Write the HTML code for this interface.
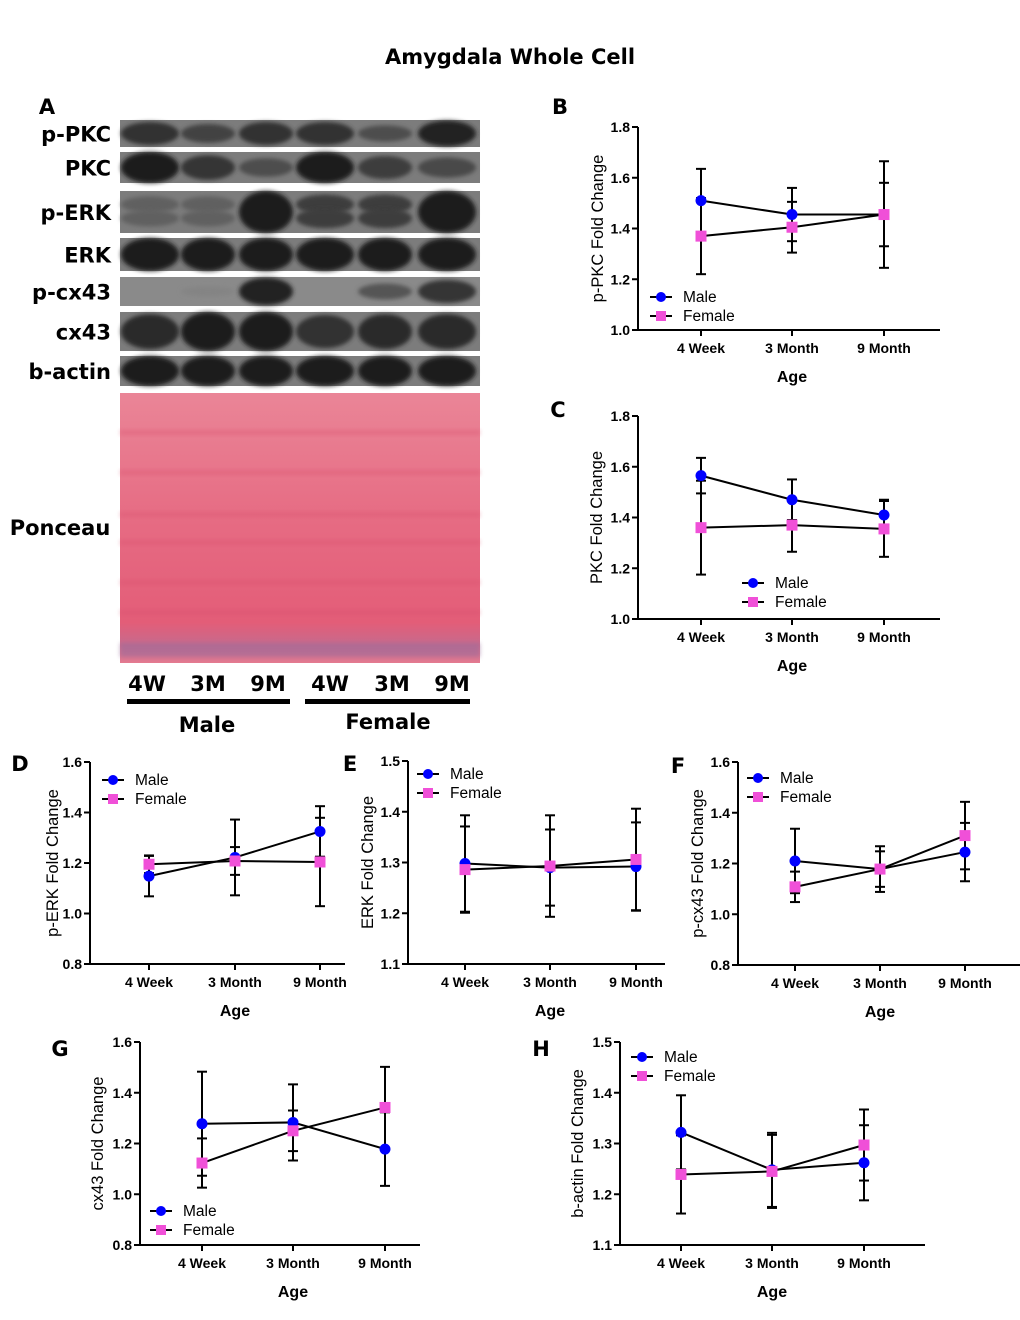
<!DOCTYPE html>
<html><head><meta charset="utf-8">
<style>
html,body{margin:0;padding:0;background:#fff;}
svg{display:block;font-family:"Liberation Sans",Arial,sans-serif;}
.lbl{font-weight:bold;font-size:21px;fill:#000;font-family:"DejaVu Sans","Liberation Sans",sans-serif;}
</style></head>
<body>
<svg id="fig" width="1020" height="1320" viewBox="0 0 1020 1320" xmlns="http://www.w3.org/2000/svg">
<defs>
<filter id="blur" x="-20%" y="-50%" width="140%" height="200%"><feGaussianBlur stdDeviation="2.2"/></filter>
<linearGradient id="pon" x1="0" y1="0" x2="0" y2="1">
<stop offset="0" stop-color="#ea8597"/><stop offset="0.5" stop-color="#e66a82"/><stop offset="0.85" stop-color="#e35d78"/><stop offset="0.93" stop-color="#c86a8c"/><stop offset="1" stop-color="#e47a90"/>
</linearGradient>
</defs>
<text x="510" y="64" text-anchor="middle" class="lbl">Amygdala Whole Cell</text>
<g id="blot"></g>
<g id="charts"></g>
</svg>
<script>
const NS='http://www.w3.org/2000/svg';
function mk(parent,tag,attrs,text){const e=document.createElementNS(NS,tag);for(const k in attrs)e.setAttribute(k,attrs[k]);if(text!==undefined)e.textContent=text;parent.appendChild(e);return e;}

// ---------- Blot panel ----------
const blot=document.getElementById('blot');
const rowNames=['p-PKC','PKC','p-ERK','ERK','p-cx43','cx43','b-actin'];
const rowTop=[120,152,191,238,277,312,356];
const rowBot=[147,183,233,271,306,351,386];
const laneX=[150,208,266,325,385,447];
const laneW=[58,54,54,58,54,58];
const bandInt=[[0.85,0.7,0.85,0.85,0.6,0.95],[1,0.8,0.6,1,0.75,0.65],[0.45,0.45,1,0.75,0.75,1],[1,1,1,1,1,1],[0,0.15,0.95,0,0.55,0.8],[0.9,1,1,0.85,0.9,0.9],[1,1,1,1,1,1]];
mk(blot,'text',{x:47,y:114,class:'lbl','text-anchor':'middle'},'A');
rowNames.forEach((n,i)=>{
  const t=mk(blot,'text',{x:111,y:(rowTop[i]+rowBot[i])/2+8,class:'lbl','text-anchor':'end'},n);
  
  
  const r=mk(blot,'rect',{x:120,y:rowTop[i],width:360,height:rowBot[i]-rowTop[i],fill:i==4?'#8a8a8a':'#7c7c7c'});
  
  
  const h=rowBot[i]-rowTop[i];
  laneX.forEach((x,j)=>{
    const v=bandInt[i][j]; if(v<=0.05) return;
    const g=Math.round(150-120*v);
    if(i==2 && v<0.9){
      mk(blot,'ellipse',{cx:x,cy:rowTop[i]+h*0.32,rx:laneW[j]/2,ry:h*0.13+6*v,fill:`rgb(${g},${g},${g})`,filter:'url(#blur)'});
      mk(blot,'ellipse',{cx:x,cy:rowTop[i]+h*0.65,rx:laneW[j]/2,ry:h*0.13+6*v,fill:`rgb(${g},${g},${g})`,filter:'url(#blur)'});
    } else {
      mk(blot,'ellipse',{cx:x,cy:rowTop[i]+h/2,rx:laneW[j]/2,ry:h*0.5*Math.max(0.35,v),fill:`rgb(${g},${g},${g})`,filter:'url(#blur)'});
    }
  });
});
mk(blot,'text',{x:60,y:535,class:'lbl','text-anchor':'middle'},'Ponceau');
const pr=mk(blot,'rect',{x:120,y:393,width:360,height:270,fill:'url(#pon)'});


[430,470,512,540,580,610].forEach((y,k)=>{mk(blot,'rect',{x:120,y:y,width:360,height:5,fill:'#d9506e',opacity:0.35,filter:'url(#blur)'});});
mk(blot,'rect',{x:120,y:643,width:360,height:14,fill:'#9a6a9a',opacity:0.55,filter:'url(#blur)'});
const laneLbl=['4W','3M','9M','4W','3M','9M'];
const laneLblX=[147,208,268,330,392,452];
laneLbl.forEach((l,i)=>{mk(blot,'text',{x:laneLblX[i],y:691,class:'lbl','text-anchor':'middle'},l);});
mk(blot,'rect',{x:127,y:699,width:163,height:5,fill:'#000'});
mk(blot,'rect',{x:305,y:699,width:165,height:5,fill:'#000'});
mk(blot,'text',{x:207,y:732,class:'lbl','text-anchor':'middle'},'Male');
mk(blot,'text',{x:388,y:729,class:'lbl','text-anchor':'middle'},'Female');

// ---------- Chart data ----------
const categories=['4 Week','3 Month','9 Month'];
const bMale=[1.51,1.455,1.455];   const bMaleErr=[0.125,0.105,0.21];
const bFemale=[1.37,1.405,1.455]; const bFemaleErr=[0.15,0.1,0.125];
const bTicks=[1.0,1.2,1.4,1.6,1.8];
const cMale=[1.565,1.47,1.41];    const cMaleErr=[0.07,0.08,0.06];
const cFemale=[1.36,1.37,1.355];  const cFemaleErr=[0.185,0.105,0.11];
const cTicks=[1.0,1.2,1.4,1.6,1.8];
const dMale=[1.148,1.222,1.325];  const dMaleErr=[0.08,0.15,0.1];
const dFemale=[1.195,1.208,1.204];const dFemaleErr=[0.035,0.055,0.175];
const dTicks=[0.8,1.0,1.2,1.4,1.6];
const eMale=[1.298,1.29,1.292];   const eMaleErr=[0.095,0.075,0.087];
const eFemale=[1.286,1.293,1.306];const eFemaleErr=[0.085,0.1,0.1];
const eTicks=[1.1,1.2,1.3,1.4,1.5];
const fMale=[1.21,1.178,1.245];   const fMaleErr=[0.127,0.07,0.115];
const fFemale=[1.108,1.178,1.31]; const fFemaleErr=[0.06,0.09,0.133];
const fTicks=[0.8,1.0,1.2,1.4,1.6];
const gMale=[1.278,1.283,1.178];  const gMaleErr=[0.205,0.15,0.145];
const gFemale=[1.123,1.25,1.342]; const gFemaleErr=[0.097,0.08,0.16];
const gTicks=[0.8,1.0,1.2,1.4,1.6];
const hMale=[1.322,1.248,1.262];  const hMaleErr=[0.073,0.073,0.074];
const hFemale=[1.239,1.245,1.297];const hFemaleErr=[0.077,0.072,0.07];
const hTicks=[1.1,1.2,1.3,1.4,1.5];

const panels=[
 {id:'b',letter:'B',lx:560,ly:114,x0:638,x1:940,yT:127,yB:330,cx:[701,792,884],yTitle:'p-PKC Fold Change',tx:598,leg:[661,297],m:bMale,me:bMaleErr,f:bFemale,fe:bFemaleErr,t:bTicks},
 {id:'c',letter:'C',lx:558,ly:417,x0:638,x1:940,yT:416,yB:619,cx:[701,792,884],yTitle:'PKC Fold Change',tx:597,leg:[753,583],m:cMale,me:cMaleErr,f:cFemale,fe:cFemaleErr,t:cTicks},
 {id:'d',letter:'D',lx:20,ly:771,x0:90,x1:345,yT:762,yB:964,cx:[149,235,320],yTitle:'p-ERK Fold Change',tx:53,leg:[113,780],m:dMale,me:dMaleErr,f:dFemale,fe:dFemaleErr,t:dTicks},
 {id:'e',letter:'E',lx:350,ly:771,x0:408,x1:665,yT:761,yB:964,cx:[465,550,636],yTitle:'ERK Fold Change',tx:368,leg:[428,774],m:eMale,me:eMaleErr,f:eFemale,fe:eFemaleErr,t:eTicks},
 {id:'f',letter:'F',lx:678,ly:773,x0:738,x1:1020,yT:762,yB:965,cx:[795,880,965],yTitle:'p-cx43 Fold Change',tx:698,leg:[758,778],m:fMale,me:fMaleErr,f:fFemale,fe:fFemaleErr,t:fTicks},
 {id:'g',letter:'G',lx:60,ly:1056,x0:140,x1:420,yT:1042,yB:1245,cx:[202,293,385],yTitle:'cx43 Fold Change',tx:98,leg:[161,1211],m:gMale,me:gMaleErr,f:gFemale,fe:gFemaleErr,t:gTicks},
 {id:'h',letter:'H',lx:541,ly:1056,x0:620,x1:925,yT:1042,yB:1245,cx:[681,772,864],yTitle:'b-actin Fold Change',tx:578,leg:[642,1057],m:hMale,me:hMaleErr,f:hFemale,fe:hFemaleErr,t:hTicks}
];

const charts=document.getElementById('charts');
panels.forEach(p=>{
  const g=mk(charts,'g',{});
  
  
  const lo=p.t[0],hi=p.t[p.t.length-1];
  const Y=v=>p.yB-(v-lo)/(hi-lo)*(p.yB-p.yT);
  const L=mk(g,'text',{x:p.lx,y:p.ly,class:'lbl','text-anchor':'middle'},p.letter);
  
  
  mk(g,'line',{x1:p.x0,y1:p.yT,x2:p.x0,y2:p.yB,stroke:'#000','stroke-width':2});
  mk(g,'line',{x1:p.x0-1,y1:p.yB,x2:p.x1,y2:p.yB,stroke:'#000','stroke-width':2});
  p.t.forEach(v=>{
    mk(g,'line',{x1:p.x0-6,y1:Y(v),x2:p.x0,y2:Y(v),stroke:'#000','stroke-width':2});
    const tl=mk(g,'text',{x:p.x0-8,y:Y(v)+5,'text-anchor':'end','font-size':14,'font-weight':'bold'},v.toFixed(1));
    
    
  });
  categories.forEach((c,i)=>{
    mk(g,'line',{x1:p.cx[i],y1:p.yB,x2:p.cx[i],y2:p.yB+6,stroke:'#000','stroke-width':2});
    const tl=mk(g,'text',{x:p.cx[i],y:p.yB+23,'text-anchor':'middle','font-size':14,'font-weight':'bold'},c);
    
    
  });
  const xt=mk(g,'text',{x:p.cx[1],y:p.yB+52,'text-anchor':'middle','font-size':16,'font-weight':'bold'},'Age');
  
  
  const ym=(p.yT+p.yB)/2;
  const yt=mk(g,'text',{x:p.tx,y:ym,'text-anchor':'middle','font-size':16.5,transform:`rotate(-90 ${p.tx} ${ym})`,dy:5},p.yTitle);
  
  
  [[p.m,p.me,'male'],[p.f,p.fe,'female']].forEach(([vals,errs,s])=>{
    const pts=vals.map((v,i)=>p.cx[i]+','+Y(v)).join(' ');
    const pl=mk(g,'polyline',{points:pts,fill:'none',stroke:'#000','stroke-width':2});
    
    
    vals.forEach((v,i)=>{
      const x=p.cx[i],a=Y(v+errs[i]),b=Y(v-errs[i]);
      mk(g,'line',{x1:x,y1:a,x2:x,y2:b,stroke:'#000','stroke-width':2});
      mk(g,'line',{x1:x-5,y1:a,x2:x+5,y2:a,stroke:'#000','stroke-width':2});
      mk(g,'line',{x1:x-5,y1:b,x2:x+5,y2:b,stroke:'#000','stroke-width':2});
    });
  });
  [[p.m,'male'],[p.f,'female']].forEach(([vals,s])=>{
    vals.forEach((v,i)=>{
      let mkr;
      if(s==='male') mkr=mk(g,'circle',{cx:p.cx[i],cy:Y(v),r:5.5,fill:'#0000ff'});
      else mkr=mk(g,'rect',{x:p.cx[i]-5.5,y:Y(v)-5.5,width:11,height:11,fill:'#f050d8'});
      
      
    });
  });
  const [lx,ly]=p.leg;
  const lg=mk(g,'g',{});
  
  
  mk(lg,'line',{x1:lx-11,y1:ly,x2:lx+11,y2:ly,stroke:'#000','stroke-width':2});
  mk(lg,'circle',{cx:lx,cy:ly,r:5,fill:'#0000ff'});
  mk(lg,'text',{x:lx+22,y:ly+5,'font-size':15.5},'Male');
  mk(lg,'line',{x1:lx-11,y1:ly+19,x2:lx+11,y2:ly+19,stroke:'#000','stroke-width':2});
  mk(lg,'rect',{x:lx-5,y:ly+14,width:10,height:10,fill:'#f050d8'});
  mk(lg,'text',{x:lx+22,y:ly+24,'font-size':15.5},'Female');
});
</script>
</body></html>
